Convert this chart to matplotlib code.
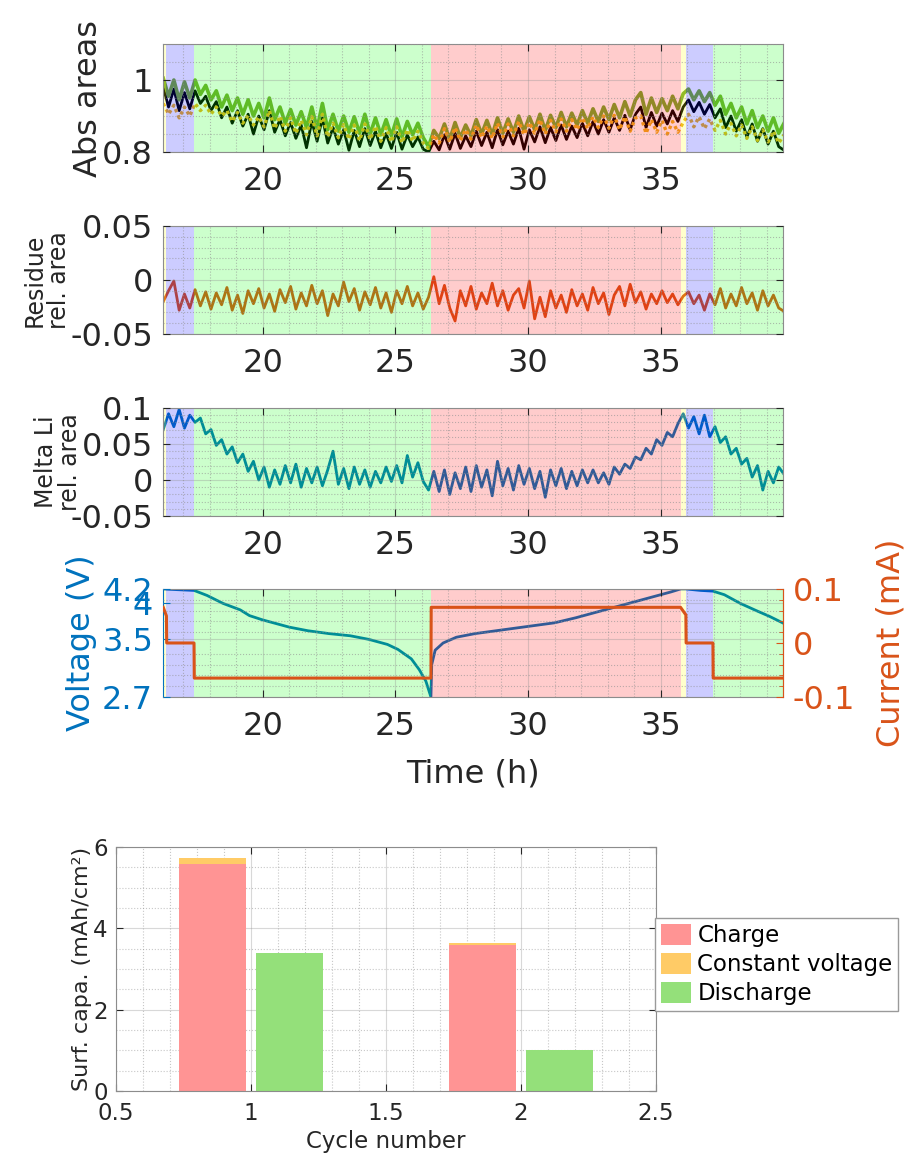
import matplotlib.pyplot as plt
import numpy as np
from matplotlib.ticker import MultipleLocator, FormatStrFormatter

plt.rcParams['font.family'] = ['DejaVu Sans']
plt.rcParams['axes.unicode_minus'] = False

# spectra are sampled every 0.2 h
t_spec = np.round(np.arange(16.25, 39.66, 0.2), 2)

abs_green = [1.005, 0.955, 1.000, 0.945, 0.995, 0.950, 1.000, 0.960, 0.985, 0.945,
             0.970, 0.925, 0.958, 0.915, 0.950, 0.905, 0.945, 0.900, 0.935, 0.895,
             0.950, 0.890, 0.925, 0.880, 0.918, 0.875, 0.912, 0.868, 0.925, 0.865,
             0.935, 0.862, 0.905, 0.858, 0.900, 0.855, 0.898, 0.852, 0.905, 0.850,
             0.895, 0.848, 0.890, 0.845, 0.892, 0.842, 0.885, 0.848, 0.880, 0.840,
             0.815, 0.860, 0.838, 0.878, 0.835, 0.882, 0.840, 0.875, 0.845, 0.890,
             0.850, 0.888, 0.848, 0.895, 0.852, 0.892, 0.855, 0.900, 0.858, 0.898,
             0.862, 0.905, 0.860, 0.902, 0.868, 0.910, 0.870, 0.908, 0.875, 0.915,
             0.880, 0.920, 0.885, 0.925, 0.890, 0.932, 0.895, 0.940, 0.900, 0.945,
             0.965, 0.905, 0.950, 0.910, 0.948, 0.915, 0.955, 0.920, 0.962, 0.975,
             0.945, 0.970, 0.940, 0.965, 0.930, 0.955, 0.905, 0.935, 0.895, 0.925,
             0.878, 0.915, 0.868, 0.900, 0.858, 0.895, 0.852, 0.880]
abs_black = [0.980, 0.925, 0.975, 0.915, 0.965, 0.920, 0.970, 0.935, 0.955, 0.915,
             0.940, 0.895, 0.925, 0.880, 0.915, 0.872, 0.905, 0.850, 0.900, 0.862,
             0.915, 0.855, 0.890, 0.845, 0.882, 0.838, 0.875, 0.812, 0.885, 0.830,
             0.895, 0.825, 0.868, 0.822, 0.862, 0.805, 0.860, 0.815, 0.865, 0.818,
             0.858, 0.812, 0.852, 0.810, 0.855, 0.808, 0.848, 0.815, 0.842, 0.808,
             0.800, 0.830, 0.806, 0.848, 0.808, 0.852, 0.810, 0.845, 0.815, 0.858,
             0.818, 0.855, 0.812, 0.862, 0.820, 0.858, 0.822, 0.866, 0.808, 0.862,
             0.828, 0.870, 0.826, 0.868, 0.832, 0.875, 0.835, 0.872, 0.840, 0.880,
             0.845, 0.885, 0.850, 0.890, 0.855, 0.895, 0.860, 0.902, 0.862, 0.905,
             0.925, 0.868, 0.910, 0.872, 0.908, 0.878, 0.915, 0.885, 0.925, 0.945,
             0.912, 0.938, 0.905, 0.932, 0.895, 0.920, 0.868, 0.900, 0.858, 0.890,
             0.842, 0.878, 0.830, 0.865, 0.822, 0.858, 0.815, 0.805]
abs_orange = [0.935, 0.905, 0.930, 0.895, 0.925, 0.900, 0.935, 0.915, 0.930, 0.905,
              0.925, 0.900, 0.915, 0.885, 0.910, 0.880, 0.902, 0.875, 0.898, 0.870,
              0.915, 0.865, 0.900, 0.858, 0.895, 0.852, 0.888, 0.848, 0.898, 0.845,
              0.905, 0.842, 0.880, 0.840, 0.876, 0.835, 0.875, 0.832, 0.878, 0.835,
              0.872, 0.830, 0.868, 0.828, 0.870, 0.826, 0.862, 0.830, 0.858, 0.825,
              0.810, 0.848, 0.825, 0.865, 0.828, 0.868, 0.832, 0.862, 0.836, 0.875,
              0.840, 0.872, 0.838, 0.880, 0.842, 0.878, 0.845, 0.885, 0.848, 0.882,
              0.852, 0.890, 0.850, 0.888, 0.856, 0.892, 0.858, 0.890, 0.862, 0.895,
              0.865, 0.898, 0.868, 0.900, 0.866, 0.902, 0.862, 0.898, 0.858, 0.895,
              0.900, 0.852, 0.890, 0.855, 0.888, 0.850, 0.885, 0.855, 0.882, 0.905,
              0.870, 0.898, 0.865, 0.892, 0.860, 0.888, 0.850, 0.880, 0.845, 0.875,
              0.838, 0.870, 0.832, 0.862, 0.828, 0.858, 0.825, 0.848]

residue = [-0.020, -0.010, -0.001, -0.028, -0.013, -0.026, -0.009, -0.024, -0.011, -0.027,
           -0.012, -0.023, -0.007, -0.028, -0.014, -0.031, -0.010, -0.022, -0.008, -0.026,
           -0.013, -0.029, -0.009, -0.021, -0.006, -0.027, -0.012, -0.024, -0.005, -0.022,
           -0.010, -0.033, -0.013, -0.024, -0.002, -0.020, -0.008, -0.028, -0.011, -0.023,
           -0.007, -0.026, -0.012, -0.030, -0.010, -0.022, -0.006, -0.024, -0.012, -0.027,
           -0.016, 0.003, -0.022, -0.005, -0.026, -0.038, -0.010, -0.024, -0.006, -0.027,
           -0.012, -0.022, -0.003, -0.024, -0.010, -0.028, -0.014, -0.008, -0.026, -0.001,
           -0.036, -0.016, -0.034, -0.010, -0.026, -0.014, -0.030, -0.009, -0.024, -0.013,
           -0.028, -0.007, -0.022, -0.012, -0.032, -0.014, -0.006, -0.024, -0.004, -0.021,
           -0.011, -0.027, -0.013, -0.022, -0.010, -0.021, -0.013, -0.023, -0.015, -0.011,
           -0.022, -0.014, -0.028, -0.013, -0.023, -0.008, -0.026, -0.013, -0.024, -0.007,
           -0.022, -0.012, -0.028, -0.010, -0.024, -0.014, -0.026, -0.029]

melta = [0.070, 0.092, 0.074, 0.098, 0.072, 0.090, 0.080, 0.086, 0.064, 0.070,
         0.048, 0.056, 0.036, 0.046, 0.024, 0.036, 0.012, 0.026, 0.000, 0.018,
         -0.010, 0.014, -0.006, 0.020, -0.004, 0.022, -0.010, 0.016, -0.004, 0.018,
         -0.008, 0.014, 0.040, -0.006, 0.016, -0.012, 0.018, -0.006, 0.014, -0.010,
         0.012, -0.004, 0.018, -0.002, 0.020, -0.004, 0.034, 0.004, 0.024, -0.002,
         -0.014, 0.012, -0.016, 0.014, -0.020, 0.010, -0.012, 0.018, -0.016, 0.020,
         -0.010, 0.014, -0.022, 0.026, -0.008, 0.016, -0.014, 0.020, -0.006, 0.016,
         -0.012, 0.012, -0.024, 0.014, -0.008, 0.016, -0.012, 0.012, -0.008, 0.014,
         -0.004, 0.014, -0.004, 0.010, -0.006, 0.018, 0.008, 0.022, 0.016, 0.032,
         0.028, 0.044, 0.036, 0.056, 0.048, 0.066, 0.060, 0.078, 0.092, 0.072,
         0.088, 0.064, 0.090, 0.060, 0.074, 0.052, 0.060, 0.036, 0.044, 0.022,
         0.030, 0.004, 0.020, -0.014, 0.012, -0.004, 0.018, 0.008]

volt_t = [16.25, 16.8, 17.41, 17.9, 18.5, 19.15, 19.5, 20.0, 21.0, 21.7, 22.5, 23.3,
          24.0, 24.7, 25.1, 25.6, 25.9, 26.15, 26.34, 26.37, 26.5, 26.8, 27.3, 28.0,
          29.0, 30.0, 31.0, 31.8, 32.5, 33.2, 34.0, 34.8, 35.4, 35.75, 35.95, 36.5,
          36.97, 37.4, 38.0, 38.6, 39.1, 39.65]
voltage = [4.20, 4.19, 4.18, 4.11, 4.00, 3.91, 3.83, 3.77, 3.67, 3.62, 3.58, 3.55,
           3.50, 3.43, 3.36, 3.23, 3.08, 2.92, 2.70, 3.15, 3.35, 3.45, 3.53, 3.58,
           3.63, 3.68, 3.73, 3.80, 3.87, 3.94, 4.02, 4.10, 4.16, 4.20, 4.20, 4.18,
           4.17, 4.12, 4.00, 3.90, 3.82, 3.72]

cur_t = [16.25, 16.37, 16.38, 17.41, 17.42, 26.34, 26.35, 35.75, 35.95, 35.96,
         36.97, 36.98, 39.65]
current = [0.066, 0.050, 0.0, 0.0, -0.065, -0.065, 0.066, 0.066, 0.052, 0.0,
           0.0, -0.065, -0.065]

phase_edges = [16.23, 16.37, 17.41, 26.34, 35.75, 35.95, 36.97, 39.6]
phase_kind = ['cv', 'rest', 'discharge', 'charge', 'cv', 'rest', 'discharge']
phase_color = {'charge': (1, 0, 0), 'discharge': (0, 1, 0), 'rest': (0, 0, 1), 'cv': (1, 1, 0)}

cycles = [1, 2]
charge_cap = [5.59, 3.59]
cv_cap = [0.14, 0.05]
discharge_cap = [3.39, 1.00]

grey = '#262626'
blue = '#0072BD'
orange = '#D95319'


def shade(ax):
    # phase patches sit on top of the curves, like in the original figure
    for x0, x1, kind in zip(phase_edges[:-1], phase_edges[1:], phase_kind):
        ax.axvspan(x0, x1, color=phase_color[kind], alpha=0.2, lw=0, zorder=2)


def style(ax, ylim, yticks, yminor):
    ax.set_xlim(16.23, 39.6)
    ax.set_xticks([20, 25, 30, 35])
    ax.xaxis.set_minor_locator(MultipleLocator(1))
    ax.set_ylim(*ylim)
    ax.set_yticks(yticks)
    ax.yaxis.set_minor_locator(MultipleLocator(yminor))
    ax.yaxis.set_major_formatter(FormatStrFormatter('%g'))
    ax.set_axisbelow(False)
    ax.grid(which='major', color='#909090', lw=0.8, alpha=0.35)
    ax.grid(which='minor', color='#909090', lw=0.8, ls=':', alpha=0.6)
    ax.tick_params(which='major', direction='in', length=5, top=True, right=True,
                   labelsize=23, colors=grey)
    ax.tick_params(axis='x', pad=10)
    ax.tick_params(axis='y', pad=7)
    ax.tick_params(which='minor', length=0)
    for s in ax.spines.values():
        s.set_color('#8c8c8c')


fig = plt.figure(figsize=(9.08, 11.58), dpi=100)
left, width, height = 0.1792, 0.6828, 0.0933

# absorbance areas
ax1 = fig.add_axes([left, 0.8687, width, height])
ax1.plot(t_spec, abs_black, color='black', lw=2, zorder=1.5)
ax1.plot(t_spec, abs_green, color='#77AC30', lw=2.6, zorder=1.5)
ax1.plot(t_spec, abs_orange, color='#EDB120', lw=2.4, ls=(0, (1, 1)), zorder=1.5)
shade(ax1)
style(ax1, (0.8, 1.1), [0.8, 1], 0.05)
ax1.set_ylabel('Abs areas', fontsize=23, color=grey)
ax1.yaxis.set_label_coords(-0.095, 0.5)

# residue
ax2 = fig.add_axes([left, 0.7116, width, height])
ax2.plot(t_spec, residue, color=orange, lw=2, zorder=1.5)
shade(ax2)
style(ax2, (-0.05, 0.05), [-0.05, 0, 0.05], 0.01)
ax2.set_ylabel('Residue\nrel. area', fontsize=17, color=grey, linespacing=1.0)
ax2.yaxis.set_label_coords(-0.148, 0.5)

# melta Li
ax3 = fig.add_axes([left, 0.5544, width, height])
ax3.plot(t_spec, melta, color=blue, lw=2, zorder=1.5)
shade(ax3)
style(ax3, (-0.05, 0.1), [-0.05, 0, 0.05, 0.1], 0.01)
ax3.set_ylabel('Melta Li\nrel. area', fontsize=17, color=grey, linespacing=1.0)
ax3.yaxis.set_label_coords(-0.13, 0.5)

# voltage and current
ax4 = fig.add_axes([left, 0.3981, width, height])
ax4.plot(volt_t, voltage, color=blue, lw=2, zorder=1.5)
shade(ax4)
style(ax4, (2.7, 4.2), [2.7, 3.5, 4, 4.2], 0.1)
ax4.grid(which='minor', axis='y', visible=False)
ax4.tick_params(axis='y', colors=blue, right=False)
ax4.spines['left'].set_color(blue)
ax4.set_ylabel('Voltage (V)', fontsize=23, color=blue)
ax4.yaxis.set_label_coords(-0.106, 0.5)
ax4.set_xlabel('Time (h)', fontsize=23, color=grey)
ax4.xaxis.set_label_coords(0.5, -0.565)

ax4r = ax4.twinx()
ax4r.plot(cur_t, current, color=orange, lw=2.2)
ax4r.set_ylim(-0.1, 0.1)
ax4r.set_yticks([-0.1, 0, 0.1])
ax4r.yaxis.set_major_formatter(FormatStrFormatter('%g'))
ax4r.yaxis.set_minor_locator(MultipleLocator(0.02))
ax4r.grid(which='minor', axis='y', color='#909090', lw=0.8, ls=':', alpha=0.6)
ax4r.tick_params(which='major', direction='in', length=5, labelsize=23, colors=orange, pad=7)
ax4r.tick_params(which='minor', direction='in', length=3, colors=orange)
for s in ax4r.spines.values():
    s.set_visible(False)
ax4r.spines['right'].set_visible(True)
ax4r.spines['right'].set_color(orange)
ax4r.set_ylabel('Current (mA)', fontsize=23, color=orange)
ax4r.yaxis.set_label_coords(1.15, 0.5)

# capacity per cycle
axb = fig.add_axes([0.1278, 0.0579, 0.5947, 0.2107])
x = np.array(cycles)
axb.bar(x - 0.143, charge_cap, 0.25, color='#ff9494', label='Charge')
axb.bar(x - 0.143, cv_cap, 0.25, bottom=charge_cap, color='#ffcb66', label='Constant voltage')
axb.bar(x + 0.143, discharge_cap, 0.25, color='#94e07a', label='Discharge')
axb.set_xlim(0.5, 2.5)
axb.set_ylim(0, 6)
axb.set_xticks([0.5, 1, 1.5, 2, 2.5])
axb.set_yticks([0, 2, 4, 6])
axb.xaxis.set_major_formatter(FormatStrFormatter('%g'))
axb.xaxis.set_minor_locator(MultipleLocator(0.1))
axb.yaxis.set_minor_locator(MultipleLocator(0.5))
axb.set_axisbelow(True)
axb.grid(which='major', color='#909090', lw=0.8, alpha=0.35)
axb.grid(which='minor', color='#909090', lw=0.8, ls=':', alpha=0.5)
axb.tick_params(which='major', direction='in', length=5, top=True, right=True,
                labelsize=16.5, colors=grey, pad=6)
axb.tick_params(axis='x', pad=8)
axb.tick_params(which='minor', length=0)
for s in axb.spines.values():
    s.set_color('#8c8c8c')
axb.set_xlabel('Cycle number', fontsize=16.5, color=grey)
axb.xaxis.set_label_coords(0.5, -0.16)
axb.set_ylabel('Surf. capa. (mAh/cm²)', fontsize=16, color=grey)
axb.yaxis.set_label_coords(-0.044, 0.5)
leg = axb.legend(loc='upper left', bbox_to_anchor=(0.7214, 0.2073), bbox_transform=fig.transFigure,
                 borderaxespad=0, fontsize=16.5, fancybox=False, framealpha=1,
                 edgecolor='#9a9a9a', handlelength=1.3, handleheight=1.05,
                 handletextpad=0.3, labelspacing=0.25, borderpad=0.25)
leg.get_frame().set_linewidth(1)

fig.savefig('out.png', dpi=100)
